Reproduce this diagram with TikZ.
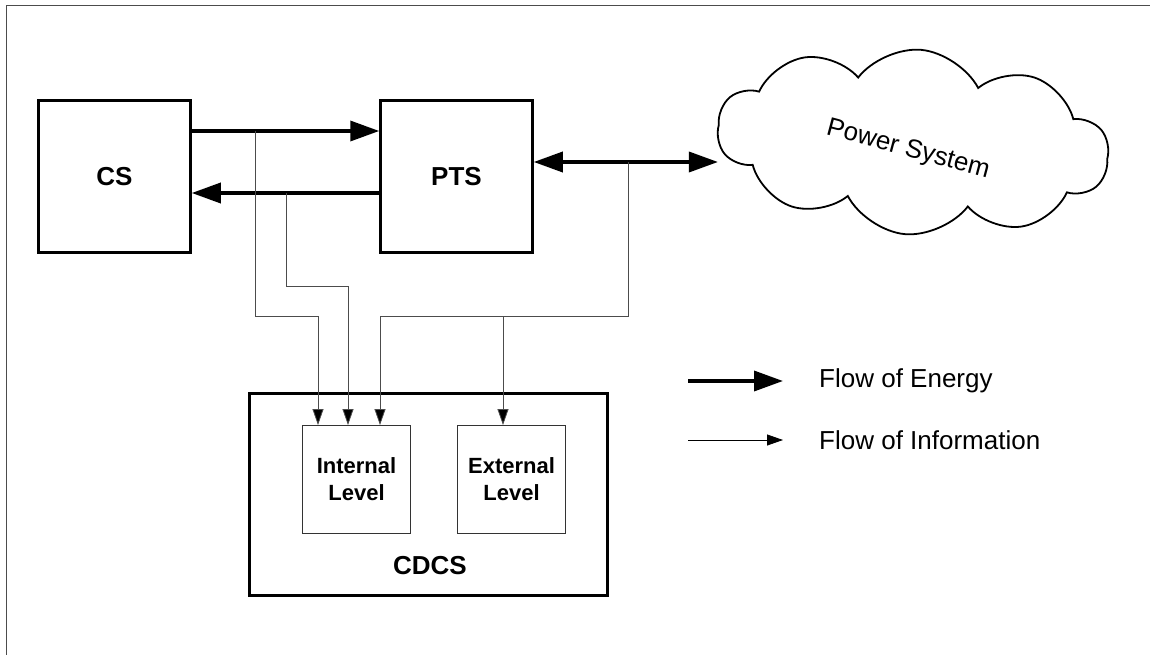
\documentclass[tikz,border=0pt]{standalone}
\usepackage{fontspec}
\setmainfont{Liberation Sans}
\usetikzlibrary{arrows.meta,shapes.symbols}

\tikzstyle{block}=[draw,line width=2.5pt,minimum width=152pt,minimum height=152pt,inner sep=0pt,font=\fontsize{26}{31}\selectfont\bfseries]
\tikzstyle{level}=[draw=black!80,line width=0.9pt,minimum width=108pt,minimum height=108pt,inner sep=0pt,align=center,font=\fontsize{22}{27}\selectfont\bfseries]
\tikzstyle{energy}=[line width=3.5pt,-{Triangle[length=29pt,width=20pt]}]
\tikzstyle{info}=[draw=black!70,line width=0.8pt,-{Triangle[length=16pt,width=11pt,fill=black]}]
\tikzstyle{legendtext}=[anchor=west,inner sep=0pt,font=\fontsize{26}{31}\selectfont]

\begin{document}
\begin{tikzpicture}[x=1pt,y=1pt]
\useasboundingbox (0,0) rectangle (1150,-655);
\draw[black!70,line width=1pt] (6,-655) -- (6,-6) -- (1150,-6);

\node[block] (cs) at (114.5,-176.5) {CS};
\node[block] (pts) at (456.5,-176.5) {PTS};
\node[cloud,draw,line width=1.8pt,cloud puffs=10,cloud puff arc=115,aspect=2.1,
  minimum width=392pt,minimum height=185pt,rotate=-5] (ps) at (913,-142) {};
\node[rotate=-15,font=\fontsize{26}{31}\selectfont] (pslabel) at (908,-150) {Power System};

\draw[energy] ([yshift=45.5pt]cs.east) -- ([yshift=45.5pt]pts.west);
\draw[energy] ([yshift=-16.5pt]pts.west) -- ([yshift=-16.5pt]cs.east);
\draw[line width=3.5pt,{Triangle[length=29pt,width=20pt]}-{Triangle[length=29pt,width=20pt]}]
  ([yshift=14.5pt]pts.east) -- ([yshift=14.5pt]pts.east -| ps.west);

\node[draw,line width=2.5pt,minimum width=358pt,minimum height=202pt] (cdcs) at (428.5,-494.5) {};
\node[font=\fontsize{26}{31}\selectfont\bfseries] (cdcslabel) at (430,-566) {CDCS};
\node[level] (int) at (356.5,-479.5) {Internal\\Level};
\node[level] (ext) at (511.5,-479.5) {External\\Level};

\coordinate (tapa) at (255,-131);
\coordinate (tapb) at (286,-193);
\coordinate (tapc) at (628,-162);
\draw[info] (tapa) -- ++(0,-185) -| ([xshift=-38.5pt]int.north);
\draw[info] (tapb) -- ++(0,-93) -| ([xshift=-8.5pt]int.north);
\draw[info] (tapc) -- ++(0,-154) -| ([xshift=23.5pt]int.north);
\draw[info] ([xshift=-8.5pt,yshift=109pt]ext.north) -- ([xshift=-8.5pt]ext.north);

% legend
\node[legendtext] (legenergy) at (819,-381) {Flow of Energy};
\node[legendtext] (leginfo) at (819,-440) {Flow of Information};
\draw[energy] ([xshift=-131pt]legenergy.west) -- ([xshift=-36pt]legenergy.west);
\draw[info,draw=black] ([xshift=-131pt]leginfo.west) -- ([xshift=-36pt]leginfo.west);
\end{tikzpicture}
\end{document}
